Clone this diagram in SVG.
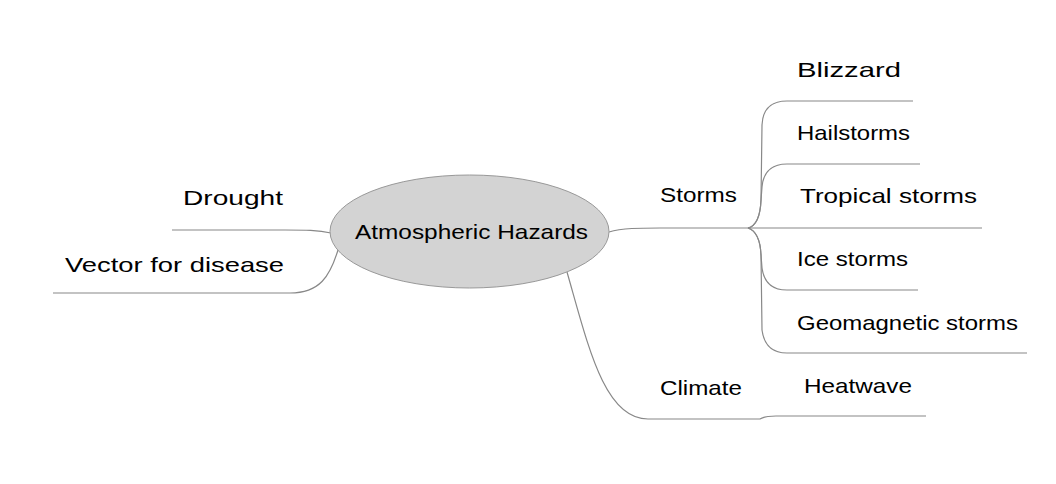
<svg xmlns="http://www.w3.org/2000/svg" width="1056" height="484" viewBox="0 0 1056 484">
<style>
.t{font-family:"Liberation Sans",Arial,sans-serif;font-size:21px;fill:#000}
.c{fill:none;stroke:#888;stroke-width:1.2}
</style>
<rect width="1056" height="484" fill="#fff"/>
<g id="connectors">
<path class="c" d="M331 233 C318 230 305 230 285 230 L172 230"/>
<path class="c" d="M338 250 C330 276 320 293 290 293 L53 293"/>
<path class="c" d="M609 232 C622 228 640 228 660 228 L982 228"/>
<path class="c" d="M748 228 Q760 225 761 200 L762 125 Q763 101 787 101 L913 101"/>
<path class="c" d="M748 228 Q760 225 761 200 L762 187 Q764 164 787 164 L920 164"/>
<path class="c" d="M748 228 Q760 232 761 255 L762 268 Q765 290 787 290 L918 290"/>
<path class="c" d="M748 228 Q760 232 761 255 L762 330 Q765 353 787 353 L1027 353"/>
<path class="c" d="M567 272 C588 345 604 419 648 419 L760 419 Q765 416 776 416 L926 416"/>
</g>
<g id="root">
<ellipse cx="469.5" cy="231.5" rx="139.5" ry="56.5" fill="#d3d3d3" stroke="#999" stroke-width="1"/>
<text class="t" x="355" y="239" textLength="233" lengthAdjust="spacingAndGlyphs">Atmospheric Hazards</text>
</g>
<g id="drought"><text class="t" x="183" y="205" textLength="100" lengthAdjust="spacingAndGlyphs">Drought</text></g>
<g id="vector"><text class="t" x="65" y="272" textLength="219" lengthAdjust="spacingAndGlyphs">Vector for disease</text></g>
<g id="storms"><text class="t" x="660" y="202" textLength="77" lengthAdjust="spacingAndGlyphs">Storms</text></g>
<g id="blizzard"><text class="t" x="797" y="77" textLength="104" lengthAdjust="spacingAndGlyphs">Blizzard</text></g>
<g id="hailstorms"><text class="t" x="797" y="140" textLength="113" lengthAdjust="spacingAndGlyphs">Hailstorms</text></g>
<g id="tropical"><text class="t" x="800" y="203" textLength="177" lengthAdjust="spacingAndGlyphs">Tropical storms</text></g>
<g id="ice"><text class="t" x="797" y="266" textLength="111" lengthAdjust="spacingAndGlyphs">Ice storms</text></g>
<g id="geomagnetic"><text class="t" x="797" y="330" textLength="221" lengthAdjust="spacingAndGlyphs">Geomagnetic storms</text></g>
<g id="climate"><text class="t" x="660" y="395" textLength="82" lengthAdjust="spacingAndGlyphs">Climate</text></g>
<g id="heatwave"><text class="t" x="804" y="393" textLength="108" lengthAdjust="spacingAndGlyphs">Heatwave</text></g>
</svg>
